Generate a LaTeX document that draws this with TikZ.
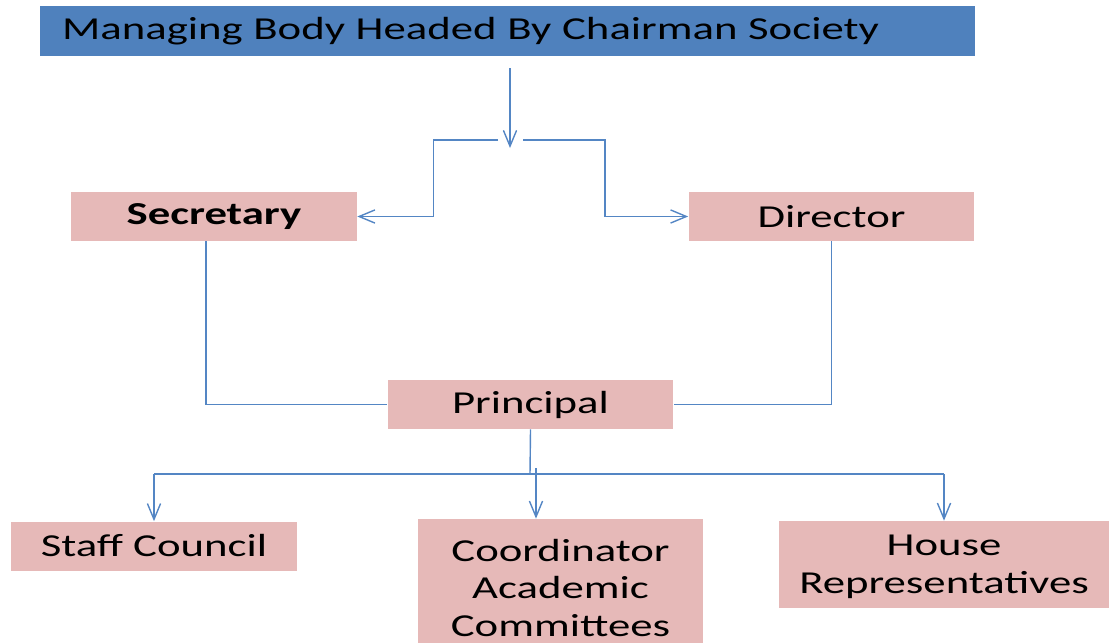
\documentclass[tikz,border=0pt]{standalone}
\usepackage{fontspec}
\setmainfont{Carlito}[FakeStretch=1.4]
\usepackage{tikz}
\usetikzlibrary{arrows.meta,calc}
\definecolor{headblue}{RGB}{79,129,189}
\definecolor{postpink}{RGB}{230,185,184}
\definecolor{linkblue}{RGB}{84,134,196}

\begin{document}
\begin{tikzpicture}[x=0.02cm,y=-0.02cm]
  \tikzstyle{head} = [fill=headblue,minimum height=1cm,text width=17.82cm,inner xsep=0.44cm,align=left,font=\fontsize{18.2}{21.5}\selectfont]
  \tikzstyle{post} = [fill=postpink,minimum width=5.72cm,minimum height=0.98cm,inner sep=0pt,align=center,font=\fontsize{18.2}{21.5}\selectfont]
  \tikzstyle{link} = [draw=linkblue,line width=0.8pt]
  \tikzstyle{arrow} = [link,-{Straight Barb[length=9pt,width=7.5pt]}]
  %
  \useasboundingbox (0,0) rectangle (1114,642);
  % Boxes.
  \node[head] (board) at (507.5,31) {Managing Body Headed By Chairman Society};
  \node[post] (secretary) at (214,216.5) {\textbf{Secretary}};
  \node[post] (director) at (831.5,216.5) {Director};
  \node[post] (principal) at (530.5,404.5) {Principal};
  \node[post] (staff) at (154,546) {Staff Council};
  \node[post,minimum width=5.7cm,minimum height=2.76cm] (coord) at (560.5,588) {Coordinator\\Academic\\Committees};
  \node[post,minimum width=6.6cm,minimum height=1.74cm,text depth=0pt] (house) at (944,564.5) {House\\Representatives};
  %
  % Bend points.
  \coordinate (fork) at (510,148);
  \coordinate (forkL) at (498,140);
  \coordinate (forkR) at (523,140);
  \coordinate (bus) at (530,474);
  \coordinate (midtap) at (536,468);
  %
  % Draw lines.
  \draw[arrow] ($(board.south -| fork)+(0,12)$) -- (fork);
  \draw[arrow] (forkL) -| ($(secretary.east)+(76,0)$) -- (secretary.east);
  \draw[arrow] (forkR) -| ($(director.west)+(-83,0)$) -- (director.west);
  \draw[link] ([xshift=-0.16cm]secretary.south) |- (principal.west);
  \draw[link] (director.south) |- (principal.east);
  \draw[link] (principal.south) -- (bus);
  \draw[link] (staff.north |- bus) -- (house.north |- bus);
  \draw[arrow] (staff.north |- bus) -- (staff.north);
  \draw[arrow] (midtap) -- (midtap |- coord.north);
  \draw[arrow] (house.north |- bus) -- (house.north);
  %
\end{tikzpicture}
\end{document}
